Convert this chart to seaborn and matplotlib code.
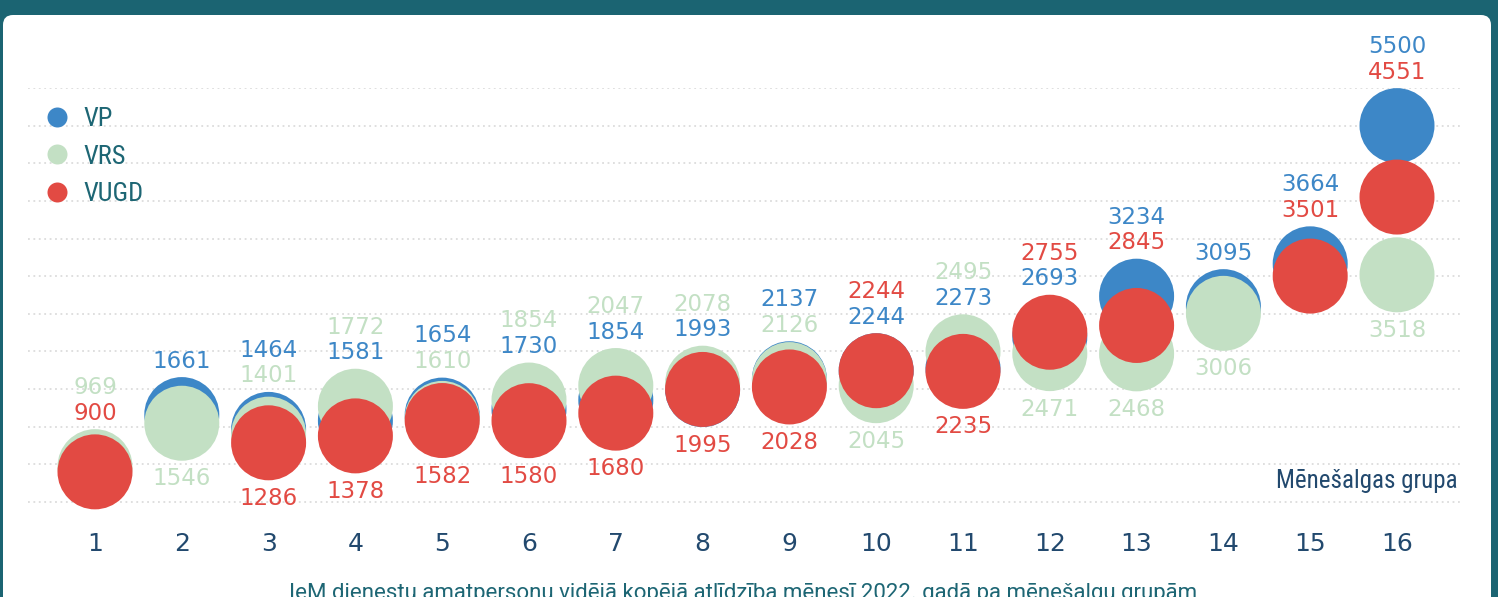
import numpy as np
import pandas as pd
import matplotlib
matplotlib.use('Agg')
import matplotlib.pyplot as plt
import seaborn as sns
from matplotlib.lines import Line2D
from matplotlib.patches import FancyBboxPatch
from matplotlib import font_manager

groups = list(range(1, 17))
series = ['VP', 'VRS', 'VUGD']
vp = [np.nan, 1661, 1464, 1581, 1654, 1730, 1854, 1993, 2137, 2244, 2273, 2693, 3234, 3095, 3664, 5500]
vrs = [969, 1546, 1401, 1772, 1610, 1854, 2047, 2078, 2126, 2045, 2495, 2471, 2468, 3006, np.nan, 3518]
vugd = [900, np.nan, 1286, 1378, 1582, 1580, 1680, 1995, 2028, 2244, 2235, 2755, 2845, np.nan, 3501, 4551]
# which series has its value written under the circles
label_below = [None, 'VRS', 'VUGD', 'VUGD', 'VUGD', 'VUGD', 'VUGD', 'VUGD',
               'VUGD', 'VRS', 'VUGD', 'VRS', 'VRS', 'VRS', None, 'VRS']

colors = {'VP': '#3d87c7', 'VRS': '#c3e0c4', 'VUGD': '#e24a43'}
navy = '#22496e'
teal = '#1d6674'

df = pd.DataFrame({'group': groups, 'VP': vp, 'VRS': vrs, 'VUGD': vugd})
long_df = df.melt(id_vars='group', var_name='series', value_name='value').dropna()

sns.set_style('white')
plt.rcParams['font.family'] = ['DejaVu Sans']

# narrow face for the legend / axis name, if one is around
names = {f.name for f in font_manager.fontManager.ttflist}
narrow = next((n for n in ['Roboto Condensed', 'Liberation Sans Narrow', 'Noto Sans Condensed',
                           'Open Sans Condensed'] if n in names), None)
if narrow:
    narrow_font = {'family': narrow}
else:
    narrow_font = {'family': 'Noto Sans', 'stretch': 'condensed'}

fig = plt.figure(figsize=(14.98, 5.97), dpi=100, facecolor='#1b6472')
panel = FancyBboxPatch((0.03, -0.5), 14.88, 6.32, boxstyle='round,pad=0,rounding_size=0.1',
                       transform=fig.dpi_scale_trans, facecolor='white', edgecolor='none',
                       zorder=-10)
fig.add_artist(panel)

ax = fig.add_axes([28 / 1498, (597 - 539.6) / 597, 1434 / 1498, 451.6 / 597])
ax.set_facecolor('none')

sns.scatterplot(data=long_df, x='group', y='value', hue='series', hue_order=series,
                palette=colors, s=2916, linewidth=0, legend=False, ax=ax, zorder=3)

ax.set_xlim(1 - 67 / 86.8, 16 + 65 / 86.8)
ax.set_ylim(0, 6000)
ax.set_yticks(range(500, 6001, 500))
ax.set_yticklabels([])
ax.yaxis.grid(True, color='#dcdcdc', linestyle=(0, (1, 2)), linewidth=1.3)
ax.set_axisbelow(True)
ax.set_xticks(groups)
ax.set_xticklabels([str(g) for g in groups], fontsize=18, color=navy)
ax.tick_params(axis='x', length=0, pad=-5.3)
ax.tick_params(axis='y', length=0)
ax.set_xlabel('')
ax.set_ylabel('')
sns.despine(ax=ax, left=True, bottom=True)

for i, g in enumerate(groups):
    vals = {s: df.loc[i, s] for s in series if not np.isnan(df.loc[i, s])}
    top = max(vals.values())
    low = min(vals.values())
    below = label_below[i]
    above = sorted([s for s in vals if s != below], key=lambda s: (-vals[s], -series.index(s)))
    for k, s in enumerate(reversed(above)):
        ax.annotate(f'{vals[s]:.0f}', xy=(g, top), xytext=(0, 38.5 + 18.5 * k),
                    textcoords='offset points', ha='center', va='center',
                    fontsize=16.5, color=colors[s], annotation_clip=False, zorder=5)
    if below:
        ax.annotate(f'{vals[below]:.0f}', xy=(g, low), xytext=(0, -40),
                    textcoords='offset points', ha='center', va='center',
                    fontsize=16.5, color=colors[below], annotation_clip=False, zorder=5)

ax.text(0.9972, (539.6 - 488) / 451.6, 'Mēnešalgas grupa', transform=ax.transAxes,
        ha='right', va='baseline', fontsize=18, color=navy, **narrow_font)

handles = [Line2D([], [], marker='o', linestyle='', markersize=14.4,
                  markerfacecolor=colors[s], markeredgewidth=0) for s in series]
leg = ax.legend(handles, series, loc='upper left', bbox_to_anchor=(43.8 / 1498, (597 - 107) / 597),
                bbox_transform=fig.transFigure, frameon=False, borderpad=0, borderaxespad=0,
                handlelength=1.0, handletextpad=0.52, labelspacing=0.52,
                prop=dict(size=19, **narrow_font))
for t in leg.get_texts():
    t.set_color(teal)

fig.text(743.5 / 1498, (597 - 582.5) / 597,
         'IeM dienestu amatpersonu vidējā kopējā atlīdzība mēnesī 2022. gadā pa mēnešalgu grupām',
         ha='center', va='top', fontsize=16, color=teal, family=['Roboto', 'DejaVu Sans'])

fig.savefig('out.png', dpi=100, facecolor=fig.get_facecolor())
